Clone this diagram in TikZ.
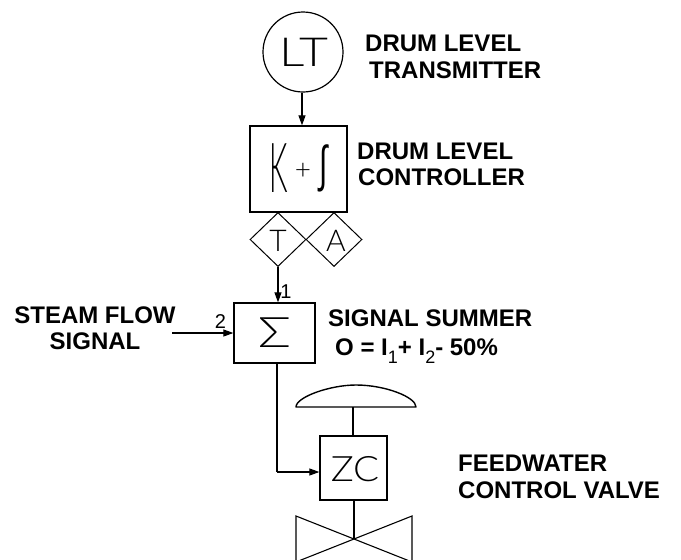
\documentclass[tikz,border=0pt]{standalone}
\usepackage{fontspec}
\setmainfont{Liberation Sans}
\newfontfamily\thinf{Lato Light}
\usetikzlibrary{arrows.meta,shapes.geometric}
\newcommand{\lowsub}[1]{\raisebox{-8pt}{\fontsize{18}{18}\mdseries\selectfont #1}}
\tikzset{
  ln/.style={line width=1.1pt,black},
  box/.style={draw,line width=1.3pt,rectangle,inner sep=0pt},
  sym/.style={inner sep=0pt},
  lbl/.style={font=\bfseries\fontsize{24}{27}\selectfont,inner sep=0pt,anchor=west},
  lblc/.style={lbl,anchor=center},
  num/.style={font=\fontsize{20}{20}\selectfont,inner sep=0pt},
  arr/.style={ln,-{Triangle[length=10pt,width=7pt]}},
  dia/.style={draw,diamond,aspect=1.05,line width=1pt,minimum width=56pt,minimum height=54pt,inner sep=0pt}
}
\begin{document}
\begin{tikzpicture}[x=1pt,y=-1pt]
\useasboundingbox (0,0) rectangle (681,560);
\clip (0,0) rectangle (681,560);
\node[draw,circle,line width=1.2pt,minimum size=80pt,inner sep=0pt] (lt) at (303,52) {};
\node[sym] (ltt) at (304,52) {\scalebox{1.25}[1]{\thinf\fontsize{40}{40}\selectfont LT}};
\node[box,minimum width=97pt,minimum height=86pt] (pi) at (298.5,169) {};
\node[sym] (k) at (279,168) {\scalebox{0.42}[1]{\thinf\fontsize{69}{69}\selectfont K}};
\node[sym] (plus) at (303,171) {\thinf\fontsize{28}{28}\selectfont +};
\node[sym] (int) at (324,168) {\scalebox{0.6}[1]{\fontsize{50}{50}\selectfont ∫}};
\node[dia] (t) at (278,239.5) {};
\node[dia] (a) at (334,239.5) {};
\node[sym] (tt) at (278,241) {\thinf\fontsize{30}{30}\selectfont T};
\node[sym] (at) at (336,241) {\thinf\fontsize{30}{30}\selectfont A};
\node[box,minimum width=81pt,minimum height=60pt] (sum) at (274.5,333) {};
\node[sym] (sg) at (274.5,333) {\scalebox{1.3}[1]{\thinf\fontsize{42}{42}\selectfont Σ}};
\node[box,minimum width=67pt,minimum height=64pt] (zc) at (353.5,468) {};
\node[sym] (zct) at (355,469.5) {\scalebox{1.1}[1]{\thinf\fontsize{35}{35}\selectfont ZC}};
\coordinate (in) at (172,333);
\coordinate (bend) at (277,472);
\coordinate (domeL) at (296,407);
\coordinate (domeR) at (416,407);
\coordinate (domeB) at (353,407);
\coordinate (apex) at (354,539);
\draw[arr] (lt.south -| 302,0) -- (pi.north -| 302,0);
\draw[arr] (t.south) -- (sum.north -| t.south);
\draw[arr] (in) -- (in -| sum.west);
\draw[ln] (sum.south -| bend) -- (bend);
\draw[arr] (bend) -- (bend -| zc.west);
\draw[line width=1.4pt,line join=round] (domeL) .. controls (296,397) and (330,385) .. (356,385) .. controls (385,385) and (416,397) .. (416,407) -- cycle;
\draw[ln] (domeB) -- (domeB |- zc.north);
\draw[line width=1.3pt] (zc.south -| apex) -- (apex);
\draw[line width=1.1pt] (296,516) -- (296,562) -- (412,516) -- (412,562) -- cycle;
\node[lbl] (l1) at (365,43.5) {DRUM LEVEL};
\node[lbl] (l1b) at (369,70.5) {TRANSMITTER};
\node[lbl] (l2) at (357,151) {DRUM LEVEL};
\node[lbl] (l2b) at (358,177) {CONTROLLER};
\node[lblc] (l3) at (95,315) {STEAM FLOW};
\node[lblc] (l3b) at (95,341.5) {SIGNAL};
\node[lbl] (l4) at (328,318) {SIGNAL SUMMER};
\node[lbl,anchor=base west] (l4b) at (335,355) {O = I\lowsub{1}+ I\lowsub{2}- 50\%};
\node[lbl] (l5) at (458,463) {FEEDWATER};
\node[lbl] (l5b) at (458,490) {CONTROL VALVE};
\node[num] (n1) at (286,292) {1};
\node[num] (n2) at (220.5,322) {2};
\end{tikzpicture}
\end{document}
